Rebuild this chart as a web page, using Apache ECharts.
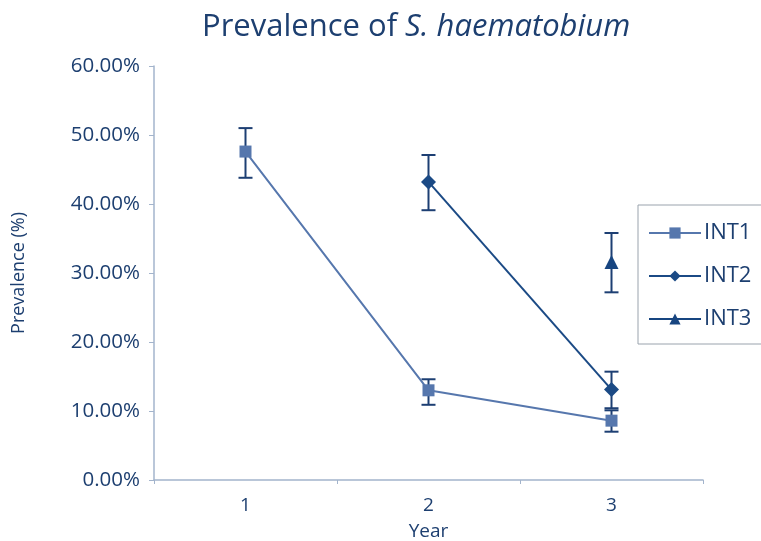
<!DOCTYPE html>
<html>
<head>
<meta charset="utf-8">
<script src="https://cdn.jsdelivr.net/npm/echarts@6/dist/echarts.min.js"></script>
<style>html,body{margin:0;padding:0;background:#fff;}#c{width:761px;height:541px;}</style>
</head>
<body>
<div id="c"></div>
<script>
const years = ['1', '2', '3'];
const yTicks = [0, 0.1, 0.2, 0.3, 0.4, 0.5, 0.6];
const int1 = [0.476, 0.130, 0.086];
const int1Low = [0.438, 0.109, 0.070];
const int1High = [0.510, 0.146, 0.101];
const int2 = [null, 0.432, 0.131];
const int2Low = [null, 0.391, 0.104];
const int2High = [null, 0.471, 0.157];
const int3 = [null, null, 0.316];
const int3Low = [null, null, 0.272];
const int3High = [null, null, 0.358];

function errData(lo, hi) {
  const out = [];
  for (let i = 0; i < years.length; i++) {
    if (lo[i] != null) out.push([i, lo[i], hi[i]]);
  }
  return out;
}
function errSeries(name, lo, hi, color) {
  return {
    type: 'custom', name: name + ' err', data: errData(lo, hi), z: 1,
    renderItem: function (params, api) {
      const x = api.value(0);
      const a = api.coord([x, api.value(1)]);
      const b = api.coord([x, api.value(2)]);
      const w = 7;
      const st = { stroke: color, lineWidth: 2, fill: null };
      return { type: 'group', children: [
        { type: 'line', shape: { x1: a[0], y1: a[1], x2: b[0], y2: b[1] }, style: st },
        { type: 'line', shape: { x1: a[0] - w, y1: a[1], x2: a[0] + w, y2: a[1] }, style: st },
        { type: 'line', shape: { x1: b[0] - w, y1: b[1], x2: b[0] + w, y2: b[1] }, style: st }
      ]};
    }
  };
}

const textColor = '#1d3f70';
const axisColor = '#a3b4cc';
const c1 = '#5677ad', c2 = '#1b4a85', c3 = '#174580', errColor = '#1d3f73';
const font = 'Open Sans';

const chart = echarts.init(document.getElementById('c'), null, { renderer: 'canvas' });
chart.setOption({
  animation: false,
  textStyle: { fontFamily: font },
  title: {
    text: 'Prevalence of {i|S. haematobium}',
    left: 197, top: 7,
    textStyle: {
      fontFamily: font, fontSize: 31, fontWeight: 'normal', color: textColor,
      rich: { i: { fontFamily: font, fontSize: 31, fontStyle: 'italic', color: textColor } }
    }
  },
  legend: {
    orient: 'vertical', left: 638, top: 205,
    data: ['INT1', 'INT2', 'INT3'],
    itemWidth: 52, itemHeight: 14, itemGap: 21,
    padding: [17, 12, 14, 10],
    borderColor: '#9aa3ad', borderWidth: 1,
    textStyle: { fontSize: 22, color: textColor, fontFamily: font, padding: [0, 0, 0, -2] }
  },
  grid: { left: 154, right: 58, top: 66, bottom: 61, containLabel: false, outerBoundsMode: 'none' },
  xAxis: {
    type: 'category', data: years, boundaryGap: true,
    name: 'Year', nameLocation: 'middle', nameGap: 42,
    nameTextStyle: { fontSize: 19, color: textColor, fontFamily: font },
    axisLine: { lineStyle: { color: axisColor, width: 1.5 } },
    axisTick: { show: true, length: 4, lineStyle: { color: axisColor } },
    axisLabel: { fontSize: 19, color: textColor, margin: 16 },
    splitLine: { show: false }
  },
  yAxis: {
    type: 'value', min: yTicks[0], max: yTicks[yTicks.length - 1], interval: 0.1,
    name: 'Prevalence (%)', nameLocation: 'middle', nameGap: 126, nameRotate: 90,
    nameTextStyle: { fontSize: 18, color: textColor, fontFamily: font },
    axisLine: { show: true, lineStyle: { color: axisColor, width: 1.5 } },
    axisTick: { show: true, length: 5, lineStyle: { color: axisColor } },
    axisLabel: { fontSize: 20.5, color: textColor, margin: 14,
      formatter: v => (v * 100).toFixed(2) + '%' },
    splitLine: { show: false }
  },
  series: [
    errSeries('INT1', int1Low, int1High, errColor),
    errSeries('INT2', int2Low, int2High, errColor),
    errSeries('INT3', int3Low, int3High, errColor),
    { name: 'INT1', type: 'line', data: int1, symbol: 'rect', symbolSize: 12, z: 3,
      lineStyle: { color: c1, width: 2 }, itemStyle: { color: c1 } },
    { name: 'INT2', type: 'line', data: int2, symbol: 'diamond', symbolSize: 15, z: 3,
      lineStyle: { color: c2, width: 2 }, itemStyle: { color: c2 } },
    { name: 'INT3', type: 'line', data: int3, symbol: 'triangle', symbolSize: 14, z: 3,
      lineStyle: { color: c3, width: 2 }, itemStyle: { color: c3 } }
  ]
});
</script>
</body>
</html>
